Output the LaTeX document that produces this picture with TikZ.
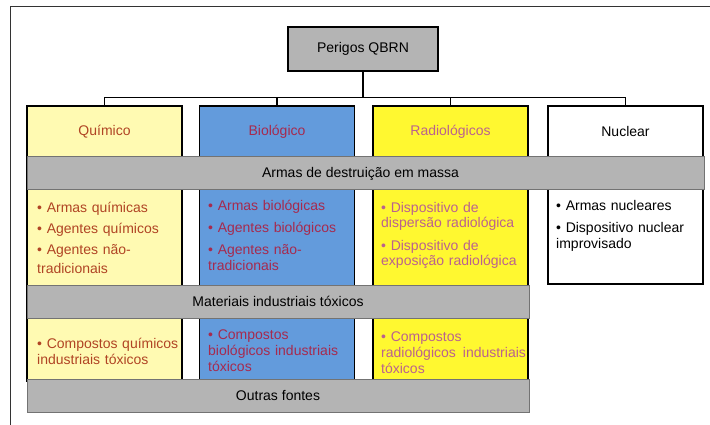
\documentclass[tikz,border=0pt]{standalone}
\usepackage{fontspec}
\setmainfont{Liberation Sans}
\usetikzlibrary{positioning,calc}

\definecolor{chemfill}{RGB}{255,250,178}
\definecolor{biofill}{RGB}{99,155,220}
\definecolor{radfill}{RGB}{255,248,48}
\definecolor{bandfill}{RGB}{180,180,180}
\definecolor{chemtext}{RGB}{176,68,36}
\definecolor{biotext}{RGB}{166,42,78}
\definecolor{radtext}{RGB}{186,98,142}

\begin{document}
\begin{tikzpicture}[x=1pt,y=-1pt,
    column/.style={draw=black,line width=1.3pt,minimum width=155pt,inner sep=0pt},
    band/.style={draw=black!55,line width=1pt,fill=bandfill,minimum height=33pt,inner sep=0pt,font=\fontsize{14}{16}\selectfont},
    heading/.style={inner sep=0pt,font=\fontsize{14}{16}\selectfont},
    itemtext/.style={anchor=base west,align=left,text width=150pt,inner sep=0pt,font=\fontsize{14}{16}\selectfont},
    conn/.style={draw=black,line width=1.4pt}]
	\useasboundingbox (0,0) rectangle (710,425);
	\draw[line width=1pt,black!80] (710,7) -- (10,7) -- (10,425);

	\node[column,fill=bandfill,minimum width=150pt,minimum height=44pt,heading] (root) at (363,49) {Perigos QBRN};

	\node[column,fill=chemfill,minimum height=275pt] (chem) at (104.5,243.5) {};
	\node[column,fill=biofill,minimum height=275pt] (bio) at (277,243.5) {};
	\node[column,fill=radfill,minimum height=275pt] (rad) at (450.5,243.5) {};
	\node[column,fill=white,minimum height=178pt] (nuc) at (625.5,195) {};

	\coordinate (bus) at ($(root.south)+(0,26)$);
	\draw[conn] (root.south) -- (bus);
	\foreach \c in {chem,bio,rad,nuc}
		\draw[conn] (\c.north) |- (bus);

	\node[heading,text=chemtext] (chemhead) at ($(chem.north)+(0,26)$) {Químico};
	\node[heading,text=biotext] (biohead) at ($(bio.north)+(0,26)$) {Biológico};
	\node[heading,text=radtext] (radhead) at ($(rad.north)+(0,26)$) {Radiológicos};
	\node[heading] (nuchead) at ($(nuc.north)+(0,26)$) {Nuclear};

	\node[band,minimum width=677pt] (wmd) at (365.5,173.5) {Armas de destruição em massa\hspace*{10pt}};
	\node[band,minimum width=502pt] (tim) at (278,301.5) {Materiais industriais tóxicos};
	\node[band,minimum width=502pt] (other) at (278,396) {Outras fontes};

	\node[itemtext,text=chemtext] (chemwmd) at (37,212) {• Armas químicas\\[5pt]• Agentes químicos\\[5pt]• Agentes não-\\[4pt]tradicionais};
	\node[itemtext,text=biotext] (biowmd) at (208,211) {• Armas biológicas\\[6pt]• Agentes biológicos\\[6pt]• Agentes não-\\tradicionais};
	\node[itemtext,text=radtext] (radwmd) at (381,212) {• Dispositivo de\\dispersão radiológica\\[6pt]• Dispositivo de\\exposição radiológica};
	\node[itemtext] (nucwmd) at (556,211) {• Armas nucleares\\[6pt]• Dispositivo nuclear\\improvisado};

	\node[itemtext,text=chemtext] (chemtim) at (37,348) {• Compostos químicos\\industriais tóxicos};
	\node[itemtext,text=biotext] (biotim) at (208,339) {• Compostos\\biológicos industriais\\tóxicos};
	\node[itemtext,text=radtext] (radtim) at (381,341) {• Compostos\\radiológicos\hspace{0.5em}industriais\\tóxicos};
\end{tikzpicture}
\end{document}
